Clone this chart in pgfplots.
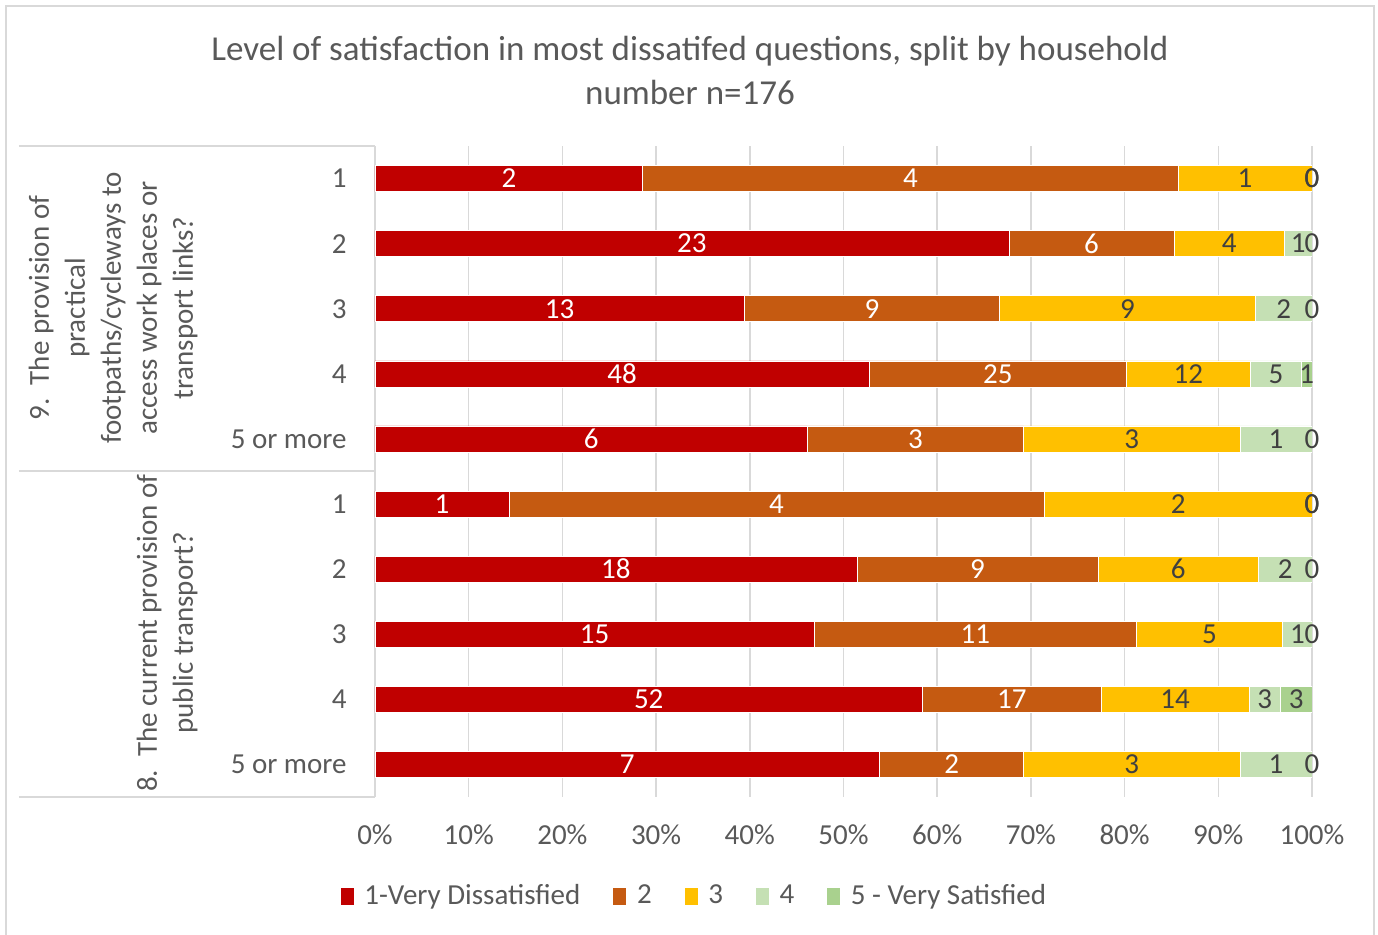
\documentclass[border=0pt]{standalone}
\usepackage{fontspec}
\setmainfont{Carlito}
\usepackage{pgfplots}
\usepackage{pgfplotstable}
\pgfplotsset{compat=1.18}
\definecolor{c1}{HTML}{C00000}
\definecolor{c2}{HTML}{C55A11}
\definecolor{c3}{HTML}{FFC000}
\definecolor{c4}{HTML}{C5E0B4}
\definecolor{c5}{HTML}{A9D18E}
\definecolor{txt}{HTML}{595959}
\definecolor{lab}{HTML}{404040}
\definecolor{gridc}{HTML}{D9D9D9}

\newcommand\pxc[2]{({((#1)-375)*0.5pt},{(146-(#2))*0.5pt})}

\pgfplotstableread{
row n1 n2 n3 n4 n5
1 2 4 1 0 0
2 23 6 4 1 0
3 13 9 9 2 0
4 48 25 12 5 1
5 6 3 3 1 0
6 1 4 2 0 0
7 18 9 6 2 0
8 15 11 5 1 0
9 52 17 14 3 3
10 7 2 3 1 0
}\data
\pgfplotstablecreatecol[create col/expr={\thisrow{n1}+\thisrow{n2}+\thisrow{n3}+\thisrow{n4}+\thisrow{n5}}]{tot}{\data}
\pgfplotstablecreatecol[create col/expr={100*\thisrow{n1}/\thisrow{tot}}]{p1}{\data}
\pgfplotstablecreatecol[create col/expr={100*\thisrow{n2}/\thisrow{tot}}]{p2}{\data}
\pgfplotstablecreatecol[create col/expr={100*\thisrow{n3}/\thisrow{tot}}]{p3}{\data}
\pgfplotstablecreatecol[create col/expr={100*\thisrow{n4}/\thisrow{tot}}]{p4}{\data}
\pgfplotstablecreatecol[create col/expr={100*\thisrow{n5}/\thisrow{tot}}]{p5}{\data}
\pgfplotstablecreatecol[create col/expr={\thisrow{p1}/2}]{c1}{\data}
\pgfplotstablecreatecol[create col/expr={\thisrow{p1}+\thisrow{p2}/2}]{c2}{\data}
\pgfplotstablecreatecol[create col/expr={\thisrow{p1}+\thisrow{p2}+\thisrow{p3}/2}]{c3}{\data}
\pgfplotstablecreatecol[create col/expr={\thisrow{p1}+\thisrow{p2}+\thisrow{p3}+\thisrow{p4}/2}]{c4}{\data}
\pgfplotstablecreatecol[create col/expr={\thisrow{p1}+\thisrow{p2}+\thisrow{p3}+\thisrow{p4}+\thisrow{p5}/2}]{c5}{\data}

\pgfplotsset{
  common/.style={
    at={(0,0)}, anchor=north west,
    scale only axis, width=468.5pt, height=325.5pt,
    xmin=0, xmax=100, ymin=0.5, ymax=10.5, y dir=reverse,
  },
  lbl/.style={draw=none, mark=none, nodes near coords, point meta=explicit symbolic,
    nodes near coords style={anchor=center, inner sep=0pt, text=#1, font=\fontsize{14.5}{17.5}\selectfont}},
}

\begin{document}
\begin{tikzpicture}[font=\fontsize{14.5}{17.5}\selectfont, text=txt]
\useasboundingbox \pxc{0}{0} rectangle \pxc{1378}{935};
\draw[gridc, line width=1pt] \pxc{6}{945} -- \pxc{6}{6} -- \pxc{1373.5}{6} -- \pxc{1373.5}{945};

\begin{axis}[common,
  xbar stacked, bar width=0.4,
  xtick={0,10,20,30,40,50,60,70,80,90,100},
  xticklabels={0\%,10\%,20\%,30\%,40\%,50\%,60\%,70\%,80\%,90\%,100\%},
  ytick={1,2,3,4,5,6,7,8,9,10},
  yticklabels={1,2,3,4,5 or more,1,2,3,4,5 or more},
  major tick length=0pt,
  xmajorgrids, grid style={gridc, line width=0.8pt},
  axis line style={draw=none},
  xticklabel style={anchor=north, inner sep=0pt, yshift=-13.5pt, text=txt, font=\fontsize{14.5}{17.5}\selectfont},
  yticklabel style={anchor=east, inner sep=0pt, xshift=-14pt, text=txt, font=\fontsize{14.5}{17.5}\selectfont},
  legend style={at={(axis description cs:0.3415,-0.152)}, anchor=center, draw=none,
    legend columns=5, font=\fontsize{14.5}{17.5}\selectfont, text=txt,
    /tikz/every odd column/.append style={column sep=3pt},
    /tikz/every even column/.append style={column sep=14pt}},
  legend image code/.code={\fill[#1] (0pt,-4.5pt) rectangle (7pt,4.5pt);},
]
\addplot[fill=c1, draw=white, line width=0.3pt] table[x=p1, y=row] {\data};
\addplot[fill=c2, draw=white, line width=0.3pt] table[x=p2, y=row] {\data};
\addplot[fill=c3, draw=white, line width=0.3pt] table[x=p3, y=row] {\data};
\addplot[fill=c4, draw=white, line width=0.3pt] table[x=p4, y=row] {\data};
\addplot[fill=c5, draw=white, line width=0.3pt] table[x=p5, y=row] {\data};
\legend{1-Very Dissatisfied, 2, 3, 4, 5 - Very Satisfied}
\end{axis}

\begin{axis}[common, hide axis, clip=false]
\addplot[lbl=white] table[x=c1, y=row, meta=n1] {\data};
\addplot[lbl=white] table[x=c2, y=row, meta=n2] {\data};
\addplot[lbl=lab] table[x=c3, y=row, meta=n3] {\data};
\addplot[lbl=lab] table[x=c4, y=row, meta=n4] {\data};
\addplot[lbl=lab] table[x=c5, y=row, meta=n5] {\data};
\end{axis}

\draw[gridc, line width=0.8pt] \pxc{19}{146} -- \pxc{375}{146};
\draw[gridc, line width=0.8pt] \pxc{19}{471} -- \pxc{375}{471};
\draw[gridc, line width=0.8pt] \pxc{19}{797} -- \pxc{375}{797};

\node[align=center, text=txt, font=\fontsize{17.5}{22}\selectfont] at \pxc{690}{70}
  {Level of satisfaction in most dissatifed questions, split by household\\number n=176};

\node[rotate=90, anchor=south, align=center, inner sep=0pt, text=txt, font=\fontsize{14.5}{18}\selectfont]
  at \pxc{198}{308} {9.\ \ The provision of\\practical\\footpaths/cycleways to\\access work places or\\transport links?};
\node[rotate=90, anchor=south, align=center, inner sep=0pt, text=txt, font=\fontsize{14.5}{18}\selectfont]
  at \pxc{198}{633} {8.\ \ The current provision of\\public transport?};
\end{tikzpicture}
\end{document}
